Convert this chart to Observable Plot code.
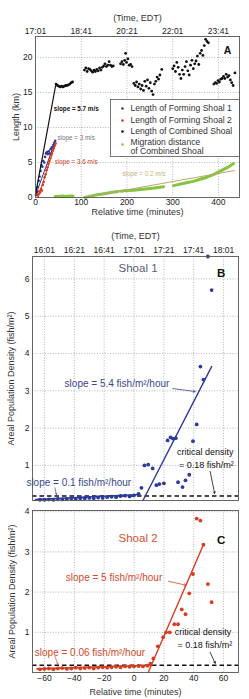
<!DOCTYPE html>
<html><head><meta charset="utf-8">
<script src="https://cdn.jsdelivr.net/npm/d3@7"></script>
<script src="https://cdn.jsdelivr.net/npm/@observablehq/plot@0.6"></script>
<style>body{margin:0;background:#fff;overflow:hidden}#c svg{display:block}</style>
</head><body><div id="c"></div>
<script>
// ---------- Panel A data ----------
const relTicksA = [0, 100, 200, 300, 400];
const clockTicksA = ["17:01", "18:41", "20:21", "22:01", "23:41"];
const lengthTicksA = [0, 5, 10, 15, 20];

const shoal1Time = [1,3,5,7,9,11,13,15,17,19,21,23,25,27,29,31,33,35,37,39,41,43];
const shoal1Len  = [0.4,0.8,1.5,2.4,3.0,3.8,4.6,4.4,5.2,5.0,5.8,6.3,6.5,6.2,6.6,6.3,6.9,7.1,7.2,7.5,7.8,8.1];
const shoal2Time = [4,6,8,10,12,14,16,18,20,22,24,26,28,30,32,34,36,38,40,42,44];
const shoal2Len  = [0.3,0.5,0.9,0.7,1.2,1.0,1.8,2.2,2.9,3.3,3.9,4.3,4.8,5.2,5.6,6.0,6.3,6.7,7.0,7.4,7.7];

const combinedTime = [45,48,51,54,57,60,63,66,69,72,75,78,81,
  107,110,113,116,119,122,125,128,131,134,137,140,143,146,149,152,155,158,161,164,167,170,
  186,189,192,195,197,199,202,205,208,211,
  215,218,221,224,227,230,233,236,239,242,245,248,251,254,257,260,263,266,269,272,276,
  300,303,306,309,312,315,318,321,324,327,330,333,336,339,342,345,348,351,354,357,360,363,366,369,372,375,378,
  390,393,396,399,402,405,408,411,414,417,420,423,426,429,432,436];
const combinedLen = [16.2,16.0,15.9,15.8,15.9,15.8,15.9,16.0,16.0,16.1,16.2,16.4,16.5,
  18.2,18.5,18.0,18.4,18.3,18.1,17.9,18.2,18.0,18.3,18.1,18.5,18.2,18.6,18.8,19.1,18.7,18.9,19.4,18.9,18.7,18.8,
  19.1,19.4,19.0,19.6,20.6,19.3,19.8,18.9,19.0,18.7,
  16.3,16.0,16.5,15.8,16.2,15.5,16.0,15.3,16.6,15.9,16.8,15.6,16.4,15.2,14.7,16.2,16.6,17.2,16.9,17.5,18.3,
  18.4,18.8,18.0,19.3,18.6,17.6,17.0,18.2,17.6,18.7,19.4,18.1,17.5,18.9,19.6,18.4,19.1,19.5,20.2,19.0,20.6,21.0,20.3,21.7,22.6,22.3,22.1,
  16.2,16.4,16.3,16.7,16.5,16.9,17.0,17.3,17.0,17.6,17.2,17.4,16.8,16.4,16.0,17.8];

const migrationTime = [43,50,58,66,74,82, 108,120,135,150,165,180, 186,200,215,230,245,260,280, 302,315,330,345,360,375,390,405,420,433];
const migrationDist = [0.15,0.15,0.2,0.15,0.2,0.2, 0.0,0.2,0.4,0.55,0.7,0.85, 0.9,1.0,1.05,1.15,1.25,1.35,1.55, 1.7,1.9,2.1,2.3,2.6,2.9,3.3,3.8,4.3,4.85];
const migrationSeg  = [1,1,1,1,1,1, 2,2,2,2,2,2, 3,3,3,3,3,3,3, 4,4,4,4,4,4,4,4,4,4];

const fitCombined = [[0, 0.4], [44, 16]];
const fitShoal1 = [[0, 0.3], [43, 8.0]];
const fitShoal2 = [[6, 0], [44, 7.8]];
const fitMigration = [[105, 0], [435, 3.85]];

const legendLabels = ["Length of Forming Shoal 1", "Length of Forming Shoal 2", "Length of Combined Shoal", "Migration distance\nof Combined Shoal"];

// ---------- Panels B & C data ----------
const relTicksBC = [-60, -40, -20, 0, 20, 40, 60];
const clockTicksB = ["16:01", "16:21", "16:41", "17:01", "17:21", "17:41", "18:01"];
const densTicksB = [1, 2, 3, 4, 5, 6];
const densTicksC = [1, 2, 3, 4];
const criticalDensity = 0.18;

const shoal1DensTime = [-63,-60,-57,-54,-51,-48,-45,-42,-39,-36,-33,-30,-27,-24,-21,-18,-15,-12,-9,-6,-3,0,
  3,5,7,9.5,12.5,15,17,20,22.5,24.5,26,28,29.5,32.5,34.5,37,39.5,42,44.5,46.5,49.5,52];
const shoal1Dens = [0.08,0.08,0.09,0.08,0.1,0.09,0.1,0.11,0.1,0.12,0.12,0.13,0.12,0.14,0.13,0.15,0.16,0.15,0.18,0.19,0.17,0.2,
  0.24,0.4,1.0,1.02,0.92,0.47,0.5,0.52,1.67,1.75,1.72,1.73,0.55,0.42,0.6,0.75,1.65,2.1,3.65,3.3,6.6,5.7];

const shoal2DensTime = [-63,-60,-57,-54,-51,-48,-45,-42,-39,-36,-33,-30,-27,-24,-21,-18,-15,-12,-9,-6,-3,0,3,6,9,
  11,13,16,19.5,21.5,24,27,29.5,32,34.5,37,39.5,42,44.5,46.5,49.5,52];
const shoal2Dens = [0.08,0.09,0.1,0.08,0.1,0.11,0.09,0.1,0.12,0.1,0.11,0.12,0.1,0.12,0.13,0.12,0.13,0.14,0.13,0.15,0.14,0.15,0.16,0.15,0.17,
  0.22,0.35,0.65,0.88,1.0,1.0,1.2,1.2,1.57,1.45,1.97,2.45,3.83,3.78,3.18,2.2,1.75];

const fitB = [[6, 0.06], [52, 3.65]];
const flatFitB = [[-66, 0.09], [4, 0.22]];
const fitC = [[9.5, 0], [46.5, 3.18]];
const flatFitC = [[-65, 0.09], [12, 0.18]];

// ---------- styling ----------
const FONT = "Liberation Sans, Arial, Helvetica, sans-serif";
const BLUE = "#2b3a9c", RED = "#d63c1e", GREEN = "#86c440", OLIVE = "#b5a96c";
const gridStyle = {stroke: "#9a9a9a", strokeOpacity: 0.9, strokeDasharray: "1,1.6", strokeWidth: 0.8};
const frameStroke = "#555";
const P = d => d[0], Q = d => d[1];
const zip = (a, b) => a.map((v, i) => [v, b[i]]);
const svgStyle = {fontFamily: FONT, fontSize: "8.5px", color: "#222", background: "white"};
const label = (s, o) => Plot.text([s], {text: d => d, textAnchor: "middle", lineAnchor: "middle", fontSize: 9, fill: "#333", ...o});

// ---------- Panel A ----------
const s1 = zip(shoal1Time, shoal1Len);
const s2 = zip(shoal2Time, shoal2Len);
const comb = zip(combinedTime, combinedLen);
const mig = migrationTime.map((t, i) => ({t, d: migrationDist[i], s: migrationSeg[i]}));
const legendColors = [BLUE, RED, "#111", GREEN];
const legendDy = [72, 84, 95, 110.5];
const legendMarkDy = [72, 84, 95, 108];

const chartA = Plot.plot({
  width: 249, height: 220,
  marginLeft: 35, marginRight: 10, marginTop: 36, marginBottom: 23,
  style: svgStyle,
  x: {domain: [0, 446]},
  y: {domain: [0, 23]},
  marks: [
    Plot.gridX(relTicksA.slice(1), gridStyle),
    Plot.gridY(lengthTicksA.slice(1), gridStyle),
    Plot.line(mig, {x: "t", y: "d", z: "s", stroke: GREEN, strokeWidth: 3}),
    Plot.line(fitMigration, {x: P, y: Q, stroke: OLIVE, strokeWidth: 1}),
    Plot.line(fitShoal1, {x: P, y: Q, stroke: BLUE, strokeWidth: 1}),
    Plot.line(fitShoal2, {x: P, y: Q, stroke: RED, strokeWidth: 1}),
    Plot.dot(s1, {x: P, y: Q, r: 1.3, fill: BLUE}),
    Plot.dot(s2, {x: P, y: Q, r: 1.3, fill: RED}),
    Plot.line(fitCombined, {x: P, y: Q, stroke: "#111", strokeWidth: 1.2}),
    Plot.dot(comb, {x: P, y: Q, r: 1.4, fill: "#111"}),
    Plot.text(["slope = 5.7 m/s"], {x: 89, y: 12.6, text: d => d, fontSize: 6.3, fill: "#111", fontWeight: 600}),
    Plot.text(["slope = 3 m/s"], {x: 89, y: 8.5, text: d => d, fontSize: 6.3, fill: "#707488"}),
    Plot.text(["slope = 3.6 m/s"], {x: 89, y: 5.1, text: d => d, fontSize: 6.3, fill: RED}),
    Plot.text(["slope = 0.2 m/s"], {x: 237, y: 3.3, text: d => d, fontSize: 6.3, fill: "#c2b47a"}),
    Plot.text(["A"], {x: 420, y: 21, text: d => d, fontSize: 10.5, fontWeight: "bold", fill: "#111"}),
    Plot.frame({fill: "white", stroke: frameStroke, strokeWidth: 0.8, insetLeft: 75, insetTop: 63, insetBottom: 41}),
    ...legendLabels.map((lab, i) => Plot.dot([lab], {frameAnchor: "top-left", dx: 87, dy: legendMarkDy[i], r: 1.3, fill: legendColors[i]})),
    ...legendLabels.map((lab, i) => Plot.text([lab], {frameAnchor: "top-left", dx: 95, dy: legendDy[i], text: d => d, textAnchor: "start", lineAnchor: "middle", lineHeight: 1.05, fontSize: 8.6, fill: "#333"})),
    Plot.frame({stroke: frameStroke, strokeWidth: 0.9}),
    Plot.axisX(relTicksA, {anchor: "bottom", tickSize: 0, tickPadding: 1.5, label: null, fontSize: 8.5}),
    Plot.axisX(relTicksA, {anchor: "top", tickSize: 0, tickPadding: 3, label: null, fontSize: 8.5, tickFormat: d => clockTicksA[relTicksA.indexOf(d)]}),
    Plot.axisY(lengthTicksA, {anchor: "left", tickSize: 0, tickPadding: 3, label: null, fontSize: 8.5}),
    label("(Time, EDT)", {frameAnchor: "top", dy: -18}),
    label("Relative time (minutes)", {frameAnchor: "bottom", dy: 14.5}),
    label("Length (km)", {frameAnchor: "left", dx: -19, rotate: -90})
  ]
});

// ---------- Panel B ----------
const dB = zip(shoal1DensTime, shoal1Dens);
const chartB = Plot.plot({
  width: 249, height: 285,
  marginLeft: 32, marginRight: 11, marginTop: 36, marginBottom: 5,
  style: svgStyle,
  x: {domain: [-68, 70]},
  y: {domain: [0.06, 6.6]},
  marks: [
    Plot.gridX(relTicksBC, gridStyle),
    Plot.gridY(densTicksB, gridStyle),
    Plot.ruleY([criticalDensity], {stroke: "#111", strokeWidth: 1.4, strokeDasharray: "4.5,3"}),
    Plot.line(flatFitB, {x: P, y: Q, stroke: BLUE, strokeWidth: 1.5}),
    Plot.line(fitB, {x: P, y: Q, stroke: BLUE, strokeWidth: 1.4}),
    Plot.dot(dB, {x: P, y: Q, r: 1.9, fill: BLUE}),
    Plot.text(["Shoal 1"], {x: 2.7, y: 6.29, text: d => d, fontSize: 11.5, fill: "#585d74"}),
    Plot.text(["B"], {x: 58.4, y: 6.16, text: d => d, fontSize: 11.5, fontWeight: "bold", fill: "#111"}),
    Plot.text(["slope = 5.4 fish/m²/hour"], {x: -11.4, y: 3.19, text: d => d, fontSize: 10, fill: "#3a4790"}),
    Plot.arrow([0], {x1: 26, y1: 3.06, x2: 41, y2: 2.98, stroke: "#3a4790", strokeWidth: 0.8, headLength: 4}),
    Plot.text(["slope = 0.1 fish/m²/hour"], {x: -37, y: 0.53, text: d => d, fontSize: 10, fill: "#3a4790"}),
    Plot.arrow([0], {x1: -53, y1: 0.4, x2: -52, y2: 0.22, stroke: "#3a4790", strokeWidth: 0.7, headLength: 2.5}),
    Plot.text(["critical density"], {x: 47.7, y: 1.37, text: d => d, fontSize: 9, fill: "#111"}),
    Plot.text(["= 0.18 fish/m²"], {x: 48.5, y: 1.0, text: d => d, fontSize: 9, fill: "#111"}),
    Plot.arrow([0], {x1: 51, y1: 0.84, x2: 54, y2: 0.25, stroke: "#111", strokeWidth: 0.8, headLength: 3.5}),
    Plot.frame({stroke: frameStroke, strokeWidth: 0.9}),
    Plot.axisX(relTicksBC, {anchor: "top", tickSize: 0, tickPadding: 4, label: null, fontSize: 8.5, tickFormat: d => clockTicksB[relTicksBC.indexOf(d)]}),
    Plot.axisY(densTicksB, {anchor: "left", tickSize: 0, tickPadding: 3, label: null, fontSize: 8.5}),
    label("(Time, EDT)", {frameAnchor: "top", dy: -20}),
    label("Areal Population Density (fish/m²)", {frameAnchor: "left", dx: -21, rotate: -90})
  ]
});

// ---------- Panel C ----------
const dC = zip(shoal2DensTime, shoal2Dens);
const chartC = Plot.plot({
  width: 249, height: 194,
  marginLeft: 32, marginRight: 11, marginTop: 5, marginBottom: 27,
  style: svgStyle,
  x: {domain: [-68, 70]},
  y: {domain: [0, 4.03]},
  marks: [
    Plot.gridX(relTicksBC, gridStyle),
    Plot.gridY(densTicksC, gridStyle),
    Plot.ruleY([criticalDensity], {stroke: "#111", strokeWidth: 1.4, strokeDasharray: "4.5,3"}),
    Plot.line(flatFitC, {x: P, y: Q, stroke: RED, strokeWidth: 1.6}),
    Plot.line(fitC, {x: P, y: Q, stroke: RED, strokeWidth: 1.4}),
    Plot.dot(dC, {x: P, y: Q, r: 1.9, fill: RED}),
    Plot.text(["Shoal 2"], {x: 2.7, y: 3.33, text: d => d, fontSize: 11.5, fill: "#d4502c"}),
    Plot.text(["C"], {x: 58.4, y: 3.28, text: d => d, fontSize: 11.5, fontWeight: "bold", fill: "#111"}),
    Plot.text(["slope = 5 fish/m²/hour"], {x: -13.4, y: 2.36, text: d => d, fontSize: 10, fill: "#d4482a"}),
    Plot.arrow([0], {x1: 23, y1: 2.27, x2: 35, y2: 2.17, stroke: "#d4482a", strokeWidth: 0.8, headLength: 4}),
    Plot.text(["slope = 0.06 fish/m²/hour"], {x: -29.5, y: 0.5, text: d => d, fontSize: 10, fill: "#d4482a"}),
    Plot.arrow([0], {x1: -53, y1: 0.4, x2: -51, y2: 0.2, stroke: "#d4482a", strokeWidth: 0.7, headLength: 2.5}),
    Plot.text(["critical density"], {x: 46.3, y: 1.0, text: d => d, fontSize: 9, fill: "#111"}),
    Plot.text(["= 0.18 fish/m²"], {x: 47.5, y: 0.68, text: d => d, fontSize: 9, fill: "#111"}),
    Plot.arrow([0], {x1: 51, y1: 0.5, x2: 54.4, y2: 0.23, stroke: "#111", strokeWidth: 0.8, headLength: 3.5}),
    Plot.frame({stroke: frameStroke, strokeWidth: 0.9}),
    Plot.axisX(relTicksBC, {anchor: "bottom", tickSize: 0, tickPadding: 2, label: null, fontSize: 8.5, tickFormat: d => d < 0 ? "\u2212" + Math.abs(d) : String(d)}),
    Plot.axisY(densTicksC, {anchor: "left", tickSize: 0, tickPadding: 3, label: null, fontSize: 8.5}),
    label("Relative time (minutes)", {frameAnchor: "bottom", dy: 20}),
    label("Areal Population Density (fish/m²)", {frameAnchor: "left", dx: -20.5, rotate: -90})
  ]
});

const c = document.getElementById("c");
c.append(chartA, chartB, chartC);
</script></body></html>
